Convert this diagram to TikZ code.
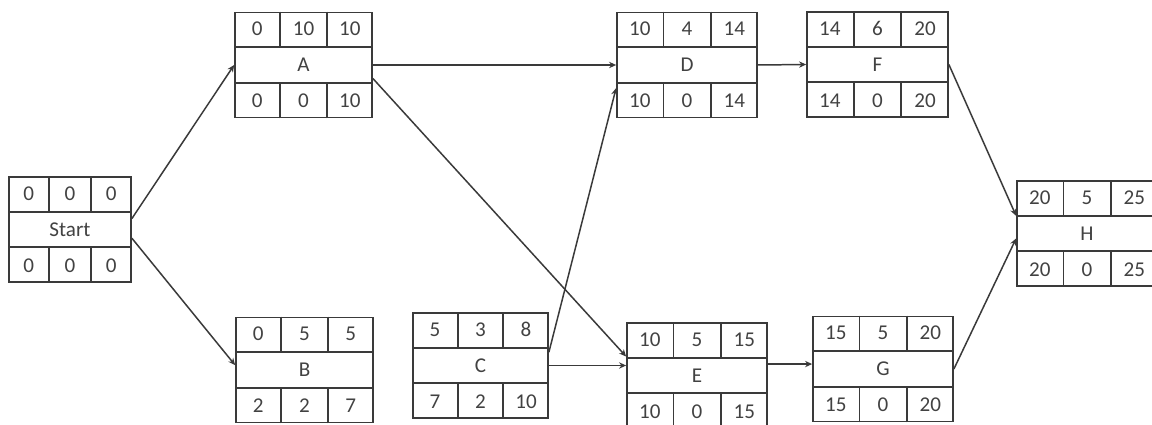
\documentclass[tikz,border=0pt]{standalone}
\usepackage{fontspec}
\setmainfont{Carlito}
\usetikzlibrary{positioning,arrows.meta,calc}
\definecolor{lnk}{RGB}{58,58,58}
\definecolor{txt}{RGB}{66,66,66}
\newcommand{\px}{0.02cm}
\tikzset{
  actbox/.style={draw=lnk,line width=1pt,minimum height=105*\px,inner sep=0pt,text=txt,font=\fontsize{12}{14}\selectfont},
  boxline/.style={draw=lnk,line width=1pt},
  numtxt/.style={text=txt,font=\fontsize{12}{14}\selectfont,inner sep=0pt},
  link/.style={draw=lnk,line width=0.85pt,-{Stealth[length=4pt,width=3.6pt]}}
}
% box with name, centre, width, label, top row, bottom row
\newcommand{\actnode}[6]{%
  \node[actbox,minimum width=#3*\px] (#1) at (#2) {#4};
  \draw[boxline] ($(#1.north west)!1/3!(#1.south west)$) -- ($(#1.north east)!1/3!(#1.south east)$);
  \draw[boxline] ($(#1.north west)!2/3!(#1.south west)$) -- ($(#1.north east)!2/3!(#1.south east)$);
  \foreach \k in {1,2} {
    \draw[boxline] ($(#1.north west)!\k/3!(#1.north east)$) -- ++(0,35);
    \draw[boxline] ($(#1.south west)!\k/3!(#1.south east)$) -- ++(0,-35);
  }
  \foreach \v [count=\k] in {#5}
    \node[numtxt] at ($(#1.north west)!{(2*\k-1)/6}!(#1.north east)+(0,17.5)$) {\v};
  \foreach \v [count=\k] in {#6}
    \node[numtxt] at ($(#1.south west)!{(2*\k-1)/6}!(#1.south east)+(0,-17.5)$) {\v};
}
\begin{document}
\begin{tikzpicture}[x=\px,y=-\px]
  \useasboundingbox[fill=white] (0,0) rectangle (1152,425);
  % activities
  \actnode{Start}{70,229.5}{122}{Start}{0,0,0}{0,0,0}
  \actnode{A}{303.5,65}{137}{A}{0,10,10}{0,0,10}
  \actnode{B}{304.5,370}{137}{B}{0,5,5}{2,2,7}
  \actnode{C}{480.5,365.5}{135}{C}{5,3,8}{7,2,10}
  \actnode{D}{687,65}{140}{D}{10,4,14}{10,0,14}
  \actnode{E}{697,375.5}{140}{E}{10,5,15}{10,0,15}
  \actnode{F}{877.5,64.5}{141}{F}{14,6,20}{14,0,20}
  \actnode{G}{883,369}{140}{G}{15,5,20}{15,0,20}
  \actnode{H}{1087,233.5}{140}{H}{20,5,25}{20,0,25}
  % dependencies
  \draw[link] (Start.10) -- (A.west);
  \draw[link] (Start.-8) -- (B.176);
  \draw[link] (A.east) -- (D.west);
  \draw[link] (A.-11) -- (E.165);
  \draw[link] (C.11) -- (D.198);
  \draw[link] (C.east) -- (C.east -| E.west);
  \draw[link] (D.east) -- (F.west);
  \draw[link] (G.176 -| E.east) -- (G.176);
  \draw[link] (F.east) -- (H.166);
  \draw[link] (G.east) -- (H.184);
\end{tikzpicture}
\end{document}
